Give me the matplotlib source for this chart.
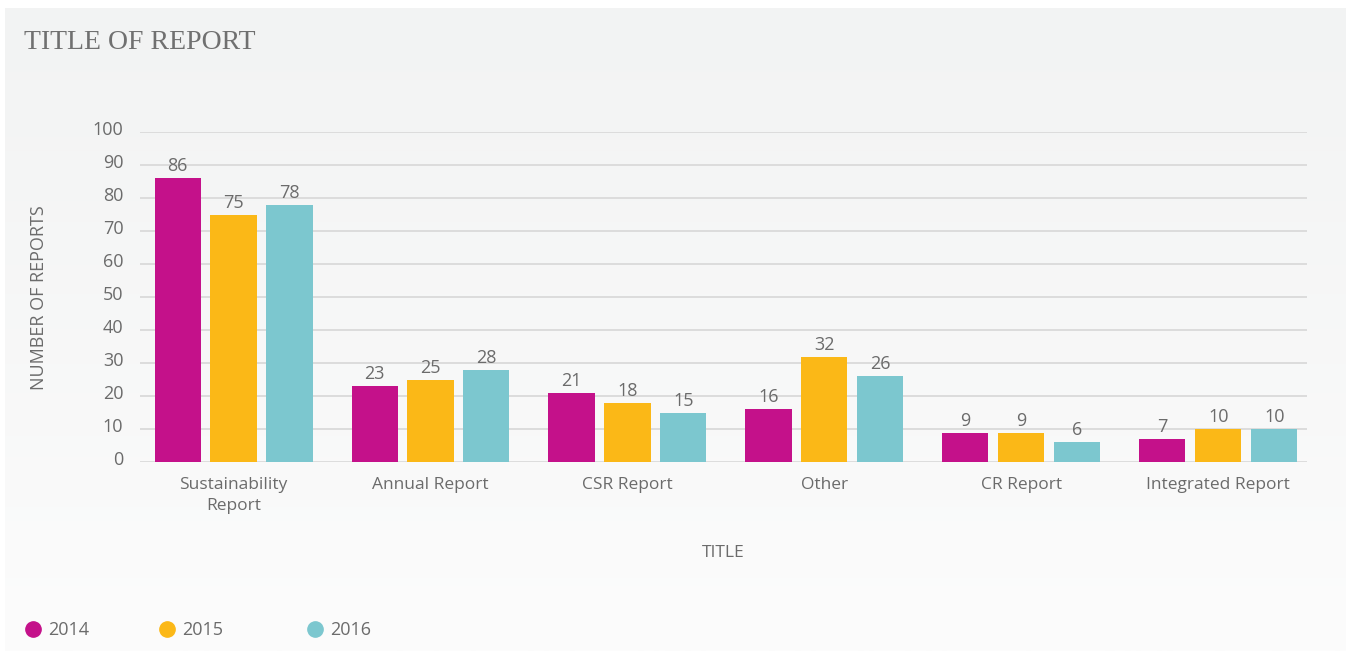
import numpy as np
import matplotlib.pyplot as plt
import matplotlib.transforms as mtransforms
from matplotlib.colors import LinearSegmentedColormap
from matplotlib.lines import Line2D

categories = ["Sustainability\nReport", "Annual Report", "CSR Report", "Other",
              "CR Report", "Integrated Report"]
years = ["2014", "2015", "2016"]
counts_2014 = [86, 23, 21, 16, 9, 7]
counts_2015 = [75, 25, 18, 32, 9, 10]
counts_2016 = [78, 28, 15, 26, 6, 10]
y_ticks = [0, 10, 20, 30, 40, 50, 60, 70, 80, 90, 100]

colors = ["#c4118a", "#fbb817", "#7cc7cf"]
text_gray = "#6b6b6b"
plt.rcParams["font.family"] = ["Open Sans", "DejaVu Sans"]

fig = plt.figure(figsize=(13.46, 6.51), dpi=100)
fig.patch.set_facecolor("white")

# soft vertical gradient behind everything
bg = fig.add_axes([0.004, 0, 0.996, 0.988], zorder=-10)
grad = np.linspace(0, 1, 256).reshape(-1, 1)
bg.imshow(grad, aspect="auto", extent=[0, 1, 0, 1],
          cmap=LinearSegmentedColormap.from_list("bg", ["#f2f3f3", "#fcfcfc"]))
bg.axis("off")

ax = fig.add_axes([0.104, 0.290, 0.867, 0.507])
ax.set_facecolor("none")

x = np.arange(len(categories))
offset = 0.284
width = 0.234
series = [counts_2014, counts_2015, counts_2016]
for i, (vals, c) in enumerate(zip(series, colors)):
    pos = x + (i - 1) * offset
    ax.bar(pos, vals, width=width, color=c, zorder=3)
    for px, v in zip(pos, vals):
        ax.text(px, v + 0.9, str(v), ha="center", va="bottom",
                fontsize=13, color=text_gray, zorder=4)

ax.set_xlim(-0.475, 5.45)
ax.set_ylim(0, 100)
ax.set_yticks(y_ticks)
ax.yaxis.grid(True, color="#dadada", linewidth=1.3, zorder=0)
ax.set_axisbelow(True)
for s in ax.spines.values():
    s.set_visible(False)
ax.tick_params(axis="y", length=0, pad=12, labelsize=13, labelcolor=text_gray)
ax.tick_params(axis="x", length=0, pad=11, labelsize=12.5, labelcolor=text_gray)
ax.set_xticks(x)
ax.set_xticklabels(categories, linespacing=1.4)
lift = mtransforms.ScaledTranslation(0, 4 / 100, fig.dpi_scale_trans)
for lbl in ax.get_yticklabels():
    lbl.set_transform(lbl.get_transform() + lift)

ax.set_ylabel("NUMBER OF REPORTS", fontsize=13, color=text_gray, labelpad=32)
ax.set_xlabel("TITLE", fontsize=12.5, color=text_gray, labelpad=22)

fig.text(0.018, 0.934, "TITLE OF REPORT", fontsize=20, color="#707070",
         family=["Liberation Serif", "DejaVu Serif"], va="center")

# legend entries sit at fixed spots along the bottom
legend_x = [0.0175, 0.117, 0.227]
for year, c, lx in zip(years, colors, legend_x):
    h = Line2D([], [], marker="o", linestyle="none", markersize=11,
               markerfacecolor=c, markeredgecolor=c)
    fig.legend([h], [year], loc="center left", bbox_to_anchor=(lx, 0.032),
               frameon=False, fontsize=13, labelcolor=text_gray,
               handletextpad=0.35, handlelength=1.0, borderpad=0, borderaxespad=0)

fig.savefig("out.png", dpi=100)
